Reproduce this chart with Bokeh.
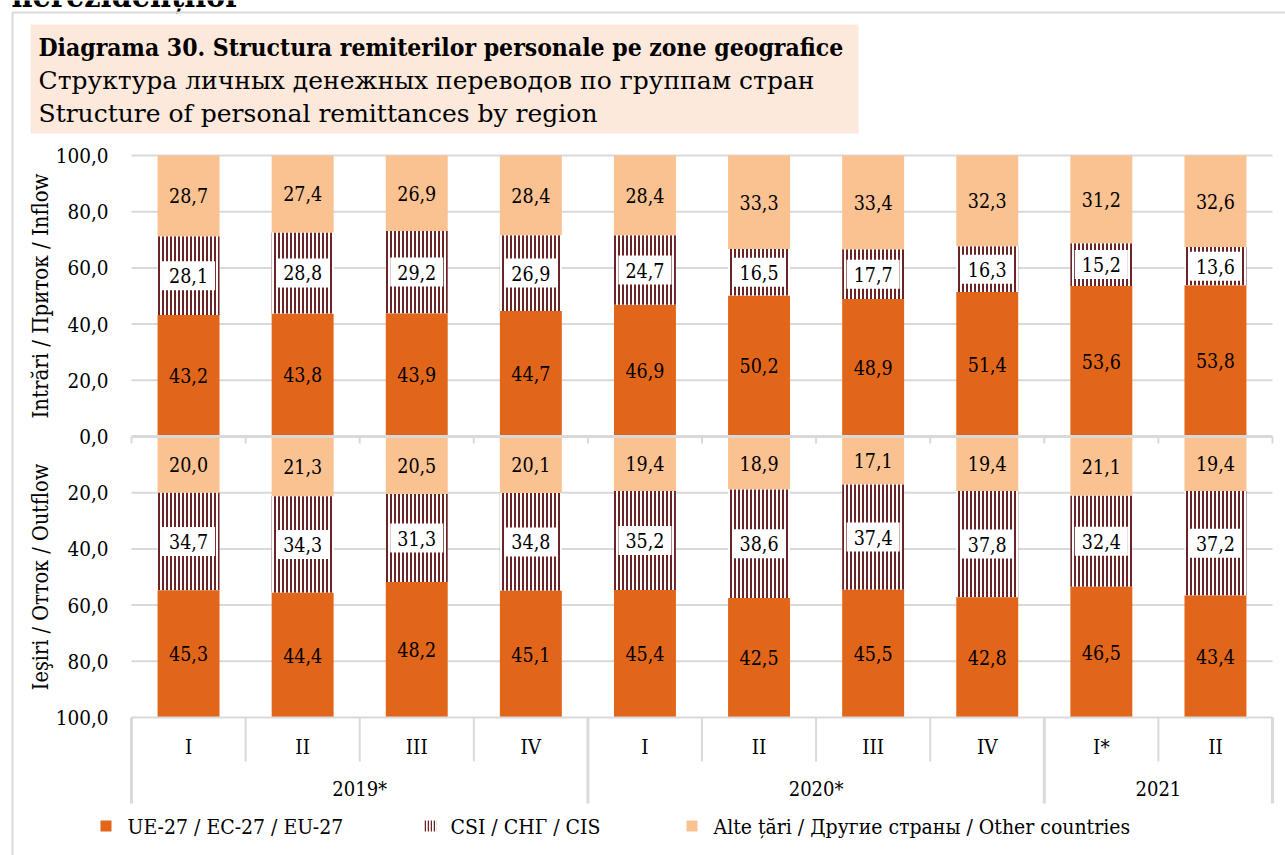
from bokeh.plotting import figure
from bokeh.models import Range1d
from bokeh.core.properties import value
from bokeh.embed import file_html
from bokeh.resources import INLINE

# ---------------- data ----------------
years = ["2019*", "2020*", "2021"]
year_spans = [(0, 4), (4, 8), (8, 10)]
quarters = ["I", "II", "III", "IV", "I", "II", "III", "IV", "I*", "II"]

in_eu = [43.2, 43.8, 43.9, 44.7, 46.9, 50.2, 48.9, 51.4, 53.6, 53.8]
in_cis = [28.1, 28.8, 29.2, 26.9, 24.7, 16.5, 17.7, 16.3, 15.2, 13.6]
in_oth = [28.7, 27.4, 26.9, 28.4, 28.4, 33.3, 33.4, 32.3, 31.2, 32.6]

out_eu = [45.3, 44.4, 48.2, 45.1, 45.4, 42.5, 45.5, 42.8, 46.5, 43.4]
out_cis = [34.7, 34.3, 31.3, 34.8, 35.2, 38.6, 37.4, 37.8, 32.4, 37.2]
out_oth = [20.0, 21.3, 20.5, 20.1, 19.4, 18.9, 17.1, 19.4, 21.1, 19.4]

y_ticks = [100, 80, 60, 40, 20, 0, -20, -40, -60, -80, -100]

series_names = ["UE-27 / EC-27 / EU-27", "CSI / СНГ / CIS",
                "Alte țări / Другие страны / Other countries"]
title_lines = ["Diagrama 30. Structura remiterilor personale pe zone geografice",
               "Структура личных денежных переводов по группам стран",
               "Structure of personal remittances by region"]
cut_heading = "nerezidenților"
axis_titles = ["Intrări / Приток / Inflow", "Ieşiri / Отток / Outflow"]

# ---------------- styles ----------------
C_EU = "#E2661A"
C_OTH = "#FAC191"
C_HATCH = "#6B2426"
C_GRID = "#D9D9D9"
FONT = value("DejaVu Serif Condensed")
FONT_W = value("DejaVu Serif")

W, H = 1285, 855
OFF = 0         # page offset of the canvas
X0 = 131.0      # px of x = 0
U = 114.1       # px per category
Y100 = 155.0    # px of y = 100
V = 2.81        # px per percent


def dx(px):
    return (px - OFF - X0) / U


def dy(py):
    return 100 - (py - OFF - Y100) / V


p = figure(width=W, height=H,
           x_range=Range1d(dx(OFF), dx(OFF + W)),
           y_range=Range1d(dy(OFF + H), dy(OFF)),
           x_axis_location=None, y_axis_location=None,
           output_backend="svg", toolbar_location=None, min_border=0)
p.grid.visible = False
p.outline_line_color = None
p.background_fill_color = "white"

n = len(quarters)
xc = [i + 0.5 for i in range(n)]
BW = 0.543

# cut heading above the chart (only its lower part is visible, as in the source)
p.text(x=[dx(11)], y=[dy(-5)], text=[cut_heading], text_font=FONT, text_font_size="32px",
       text_font_style="bold", text_color="#000000", text_align="left",
       text_baseline="middle")

# outer frame of the chart
p.segment(x0=[dx(12), dx(12)], y0=[dy(12), dy(12)], x1=[dx(1300), dx(12)], y1=[dy(12), dy(900)],
          line_color=C_GRID, line_width=2)

# title box
p.quad(left=[dx(30)], right=[dx(858)], top=[dy(24)], bottom=[dy(133)],
       fill_color="#FDE9DB", line_color=None)
p.text(x=[dx(38)], y=[dy(47)], text=[title_lines[0]], text_font=FONT,
       text_font_size="24.5px", text_font_style="bold",
       text_color="#000000", text_align="left", text_baseline="middle")
p.text(x=[dx(38), dx(38)], y=[dy(80), dy(113)], text=title_lines[1:], text_font=FONT_W,
       text_font_size="25px", text_color="#000000", text_align="left", text_baseline="middle")

# gridlines
grid_y = [t for t in y_ticks if t not in (0, -100)]
p.segment(x0=[0] * len(grid_y), x1=[n] * len(grid_y), y0=grid_y, y1=grid_y,
          line_color=C_GRID, line_width=2)

# y tick labels
p.text(x=[dx(108)] * len(y_ticks), y=y_ticks,
       text=[f"{abs(t)},0" for t in y_ticks], text_font=FONT, text_font_size="20.5px",
       text_color="#000000", text_align="right", text_baseline="middle")

# y axis titles
p.text(x=[dx(40)], y=[50], text=[axis_titles[0]], angle=1.5708, text_font=FONT,
       text_font_size="22px", text_align="center", text_baseline="middle", text_color="#000000")
p.text(x=[dx(40)], y=[-50], text=[axis_titles[1]], angle=1.5708, text_font=FONT,
       text_font_size="21.5px", text_align="center", text_baseline="middle", text_color="#000000")

# ---- inflow (upwards) ----
in_cis_top = [a + b for a, b in zip(in_eu, in_cis)]
in_oth_top = [a + b for a, b in zip(in_cis_top, in_oth)]
p.vbar(x=xc, width=BW, bottom=0, top=in_eu, fill_color=C_EU, line_color=None)
p.vbar(x=xc, width=BW, bottom=in_eu, top=in_cis_top, fill_color="white", line_color=None,
       hatch_pattern="vertical_line", hatch_color=C_HATCH, hatch_weight=2, hatch_scale=4)
p.vbar(x=xc, width=BW, bottom=in_cis_top, top=in_oth_top, fill_color=C_OTH, line_color=None)

# ---- outflow (downwards) ----
out_oth_bot = [-v for v in out_oth]
out_cis_bot = [a - b for a, b in zip(out_oth_bot, out_cis)]
out_eu_bot = [a - b for a, b in zip(out_cis_bot, out_eu)]
p.vbar(x=xc, width=BW, top=0, bottom=out_oth_bot, fill_color=C_OTH, line_color=None)
p.vbar(x=xc, width=BW, top=out_oth_bot, bottom=out_cis_bot, fill_color="white", line_color=None,
       hatch_pattern="vertical_line", hatch_color=C_HATCH, hatch_weight=2, hatch_scale=4)
p.vbar(x=xc, width=BW, top=out_cis_bot, bottom=out_eu_bot, fill_color=C_EU, line_color=None)

# zero line with small ticks
p.segment(x0=[0], x1=[n], y0=[0], y1=[0], line_color=C_GRID, line_width=3)
p.segment(x0=list(range(n + 1)), x1=list(range(n + 1)), y0=[0] * (n + 1),
          y1=[dy(443)] * (n + 1), line_color=C_GRID, line_width=2)

# bottom category axis
p.segment(x0=[0], x1=[n], y0=[-100], y1=[-100], line_color=C_GRID, line_width=2)
group_edges = sorted({a for a, b in year_spans} | {b for a, b in year_spans})
inner = [i for i in range(n + 1) if i not in group_edges]
p.segment(x0=inner, x1=inner, y0=[-100] * len(inner), y1=[dy(761)] * len(inner),
          line_color=C_GRID, line_width=2)
p.segment(x0=group_edges, x1=group_edges, y0=[-100] * len(group_edges),
          y1=[dy(803)] * len(group_edges), line_color=C_GRID, line_width=3)
p.text(x=xc, y=[dy(746)] * n, text=quarters, text_font=FONT, text_font_size="20.5px",
       text_color="#000000", text_align="center", text_baseline="middle")
p.text(x=[(a + b) / 2 for a, b in year_spans], y=[dy(788)] * len(years), text=years,
       text_font=FONT, text_font_size="20px", text_color="#000000",
       text_align="center", text_baseline="middle")


def fmt(v):
    return f"{v:.1f}".replace(".", ",")


# value labels
lab_kw = dict(text_font=FONT, text_font_size="19.5px", text_color="#000000",
              text_align="center", text_baseline="middle")
p.text(x=xc, y=[v / 2 for v in in_eu], text=[fmt(v) for v in in_eu], **lab_kw)
p.text(x=xc, y=[(a + b) / 2 for a, b in zip(in_cis_top, in_oth_top)],
       text=[fmt(v) for v in in_oth], **lab_kw)
p.text(x=xc, y=[(a + b) / 2 for a, b in zip(in_eu, in_cis_top)],
       text=[fmt(v) for v in in_cis], background_fill_color="white", padding=7, **lab_kw)
p.text(x=xc, y=[v / 2 for v in out_oth_bot], text=[fmt(v) for v in out_oth], **lab_kw)
p.text(x=xc, y=[(a + b) / 2 for a, b in zip(out_oth_bot, out_cis_bot)],
       text=[fmt(v) for v in out_cis], background_fill_color="white", padding=7, **lab_kw)
p.text(x=xc, y=[(a + b) / 2 for a, b in zip(out_cis_bot, out_eu_bot)],
       text=[fmt(v) for v in out_eu], **lab_kw)

# legend
LEG_Y = 826
p.quad(left=[dx(100)], right=[dx(111)], top=[dy(LEG_Y - 6)], bottom=[dy(LEG_Y + 5)],
       fill_color=C_EU, line_color=None)
p.quad(left=[dx(423)], right=[dx(436)], top=[dy(LEG_Y - 6)], bottom=[dy(LEG_Y + 5)],
       fill_color="white", line_color=None, hatch_pattern="vertical_line",
       hatch_color=C_HATCH, hatch_weight=1.5, hatch_scale=3)
p.quad(left=[dx(686)], right=[dx(697)], top=[dy(LEG_Y - 6)], bottom=[dy(LEG_Y + 5)],
       fill_color=C_OTH, line_color=None)
p.text(x=[dx(127), dx(450), dx(713)], y=[dy(LEG_Y)] * 3, text=series_names,
       text_font=FONT, text_font_size="21px", text_color="#000000",
       text_align="left", text_baseline="middle")

open("out.html", "w").write(file_html(p, INLINE))
